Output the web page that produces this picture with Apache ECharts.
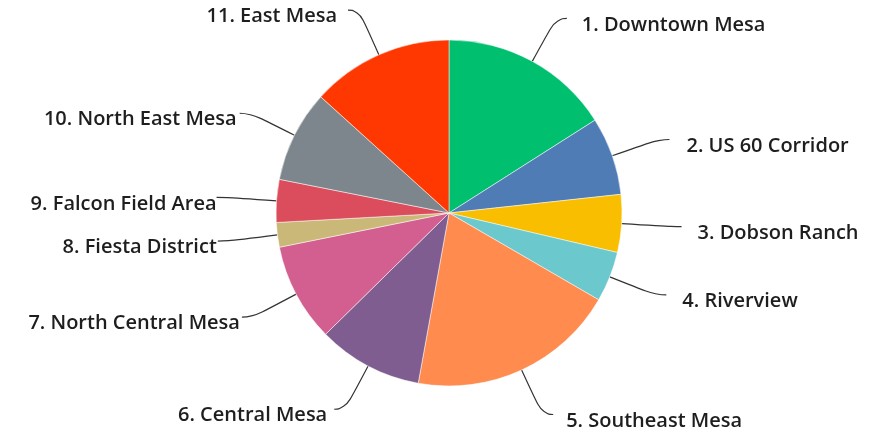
<!DOCTYPE html>
<html>
<head>
<meta charset="utf-8">
<script src="https://cdn.jsdelivr.net/npm/echarts@6/dist/echarts.min.js"></script>
<style>html,body{margin:0;padding:0;background:#fff}#c{width:892px;height:438px}</style>
</head>
<body>
<div id="c"></div>
<script>
var categories = ["1. Downtown Mesa","2. US 60 Corridor","3. Dobson Ranch","4. Riverview","5. Southeast Mesa","6. Central Mesa","7. North Central Mesa","8. Fiesta District","9. Falcon Field Area","10. North East Mesa","11. East Mesa"];
var values = [16.0, 7.3, 5.4, 4.7, 19.5, 9.8, 9.2, 2.3, 4.0, 8.6, 13.3];
var colors = ["#00BF6F","#507CB6","#F9BE00","#6BC8CD","#FF8B4F","#7F5D90","#D25F90","#C9B878","#DB4D5C","#7D868C","#FF3700"];
var labelGaps = [15, 17, 16, 16, 13, 7, 2, 1, 0, 3, 11];

var data = categories.map(function(n,i){
  return {name:n,value:values[i],itemStyle:{color:colors[i]},label:{distanceToLabelLine:labelGaps[i]}};
});
var chart = echarts.init(document.getElementById('c'));
chart.setOption({
  animation:false,
  series:[{
    type:'pie',
    center:[449,213],
    radius:173,
    startAngle:90,
    clockwise:true,
    data:data,
    itemStyle:{borderColor:'#fff',borderWidth:0.5},
    label:{
      show:true,
      formatter:'{t|{b}}',
      rich:{
        t:{
          color:'#1e1e1e',
          fontFamily:'Open Sans',
          fontWeight:600,
          fontSize:20,
          padding:[13,0,0,0]
        }
      },
      distanceToLabelLine:15
    },
    labelLine:{
      show:true,
      length:49,
      length2:11,
      smooth:0.6,
      lineStyle:{color:'#333',width:1.2}
    }
  }]
});
</script>
</body>
</html>
